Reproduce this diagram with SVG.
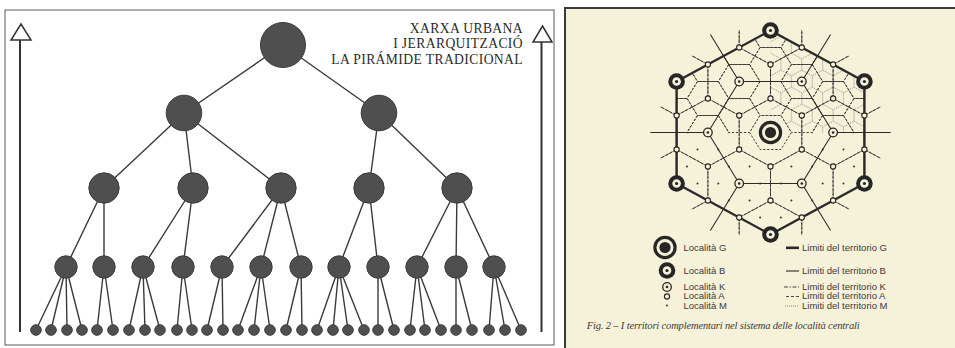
<svg xmlns="http://www.w3.org/2000/svg" width="955" height="348" viewBox="0 0 955 348">
<style>
.edge{stroke:#3a3a3a;stroke-width:1.4;fill:none}
.node{fill:#4f4f4f;stroke:#3c3c3c;stroke-width:1}
.title{font-family:"Liberation Serif","Times New Roman",serif;font-size:13.6px;fill:#2a2a2a;letter-spacing:0.4px;text-anchor:end}
.arrow{fill:#fff;stroke:#333;stroke-width:1.5;stroke-linejoin:miter}
.shaft{stroke:#333;stroke-width:2}
.gb{fill:none;stroke:#2a2a2a;stroke-width:2.3;stroke-linejoin:round}
.bb{fill:none;stroke:#2a2a2a;stroke-width:1}
.kb{fill:none;stroke:#333;stroke-width:0.9;stroke-dasharray:4 1.5 1.5 1.5}
.ab{fill:none;stroke:#333;stroke-width:0.9;stroke-dasharray:2.2 1.6}
.mb{fill:none;stroke:#9a9a9a;stroke-width:0.7;stroke-dasharray:0.9 1.1}
.ink{fill:#262626}
.paper{fill:#f6f1d9}
.kc{fill:#f6f1d9;stroke:#262626;stroke-width:1.3}
.ac{fill:#f6f1d9;stroke:#262626;stroke-width:1.1}
.md{fill:#333}
.leg{font-family:"Liberation Sans",Arial,sans-serif;font-size:9.5px;fill:#3a3a3a}
.cap{font-family:"Liberation Serif","Times New Roman",serif;font-style:italic;font-size:10.5px;fill:#3a3a3a}
</style>
<defs>
<path id="hk" d="M0-34L29.445-17V17L0 34L-29.445 17V-17Z"/>
<path id="ha" d="M19.63 0L9.815 17H-9.815L-19.63 0L-9.815-17H9.815Z"/>
<path id="hm" d="M0-11.33L9.815-5.667V5.667L0 11.33L-9.815 5.667V-5.667Z"/>
<clipPath id="clipK"><polygon points="0,-119.3 103.3,-59.65 103.3,59.65 0,119.3 -103.3,59.65 -103.3,-59.65"/></clipPath>
<clipPath id="clipA"><polygon points="-88.335,1 -88.335,-51 0,-102 88.335,-51 88.335,1"/></clipPath>
<clipPath id="clipM"><polygon points="0,0.5 0,-102 88.335,-51 88.335,0.5"/></clipPath>
<g id="sG"><circle r="11.7" class="ink"/><circle r="8.5" class="paper"/><circle r="5.6" class="ink"/></g>
<g id="sB"><circle r="8.3" class="ink"/><circle r="4.3" class="paper"/><circle r="1.6" class="ink"/></g>
<g id="sK"><circle r="4.3" class="kc"/><circle r="1.3" class="ink"/></g>
<circle id="sA" r="2.6" class="ac"/>
<circle id="sM" r="1" class="md"/>
</defs>

<rect width="955" height="348" fill="#ffffff"/>

<!-- LEFT PANEL -->
<g id="left-panel">
<rect x="5" y="10" width="549" height="335" fill="#ffffff" stroke="#5a5a5a" stroke-width="1"/>
<g id="arrow-left"><line x1="20" y1="40" x2="20" y2="332" class="shaft"/><polygon points="21,24 31,40 11,40" class="arrow"/></g>
<g id="arrow-right"><line x1="541.5" y1="42" x2="541.5" y2="332" class="shaft"/><polygon points="542.5,26 552,42 533,42" class="arrow"/></g>
<g id="title">
<text x="523" y="33" class="title">XARXA URBANA</text>
<text x="523" y="48" class="title">I JERARQUITZACIÓ</text>
<text x="523" y="64" class="title">LA PIRÁMIDE TRADICIONAL</text>
</g>
<g id="tree-edges">
<path class="edge" d="M283 45L184 113M283 45L379 113
M184 113L104 188M184 113L193 188M184 113L281 188M379 113L369 188M379 113L457 188
M104 188L66 267M104 188L104 267M193 188L143 267M193 188L183 267M281 188L222 267M281 188L261 267M281 188L301 267M369 188L339 267M369 188L378 267M457 188L417 267M457 188L456 267M457 188L494 267
M66 267L36 330M66 267L51 330M66 267L67 330M66 267L82 330
M104 267L97 330M104 267L113 330
M143 267L129 330M143 267L145 330M143 267L160 330
M183 267L177 330M183 267L192 330
M222 267L207 330M222 267L223 330
M261 267L238 330M261 267L254 330M261 267L270 330
M301 267L286 330M301 267L302 330
M339 267L317 330M339 267L333 330M339 267L348 330M339 267L364 330
M378 267L378 330M378 267L394 330
M417 267L410 330M417 267L425 330M417 267L441 330
M456 267L456 330M456 267L472 330
M494 267L489 330M494 267L505 330M494 267L521 330"/>
</g>
<g id="n0"><circle cx="283" cy="45" r="22.5" class="node"/></g>
<g id="n1a"><circle cx="184" cy="113" r="17.8" class="node"/></g>
<g id="n1b"><circle cx="379" cy="113" r="17.8" class="node"/></g>
<g id="level2">
<circle cx="104" cy="188" r="15.2" class="node"/><circle cx="193" cy="188" r="15.2" class="node"/><circle cx="281" cy="188" r="15.2" class="node"/><circle cx="369" cy="188" r="15.2" class="node"/><circle cx="457" cy="188" r="15.2" class="node"/>
</g>
<g id="level3">
<circle cx="66" cy="267" r="11.2" class="node"/><circle cx="104" cy="267" r="11.2" class="node"/><circle cx="143" cy="267" r="11.2" class="node"/><circle cx="183" cy="267" r="11.2" class="node"/><circle cx="222" cy="267" r="11.2" class="node"/><circle cx="261" cy="267" r="11.2" class="node"/><circle cx="301" cy="267" r="11.2" class="node"/><circle cx="339" cy="267" r="11.2" class="node"/><circle cx="378" cy="267" r="11.2" class="node"/><circle cx="417" cy="267" r="11.2" class="node"/><circle cx="456" cy="267" r="11.2" class="node"/><circle cx="494" cy="267" r="11.2" class="node"/>
</g>
<g id="leaves">
<circle cx="36" cy="330" r="5.3" class="node"/><circle cx="51" cy="330" r="5.3" class="node"/><circle cx="67" cy="330" r="5.3" class="node"/><circle cx="82" cy="330" r="5.3" class="node"/><circle cx="97" cy="330" r="5.3" class="node"/><circle cx="113" cy="330" r="5.3" class="node"/><circle cx="129" cy="330" r="5.3" class="node"/><circle cx="145" cy="330" r="5.3" class="node"/><circle cx="160" cy="330" r="5.3" class="node"/><circle cx="177" cy="330" r="5.3" class="node"/><circle cx="192" cy="330" r="5.3" class="node"/><circle cx="207" cy="330" r="5.3" class="node"/><circle cx="223" cy="330" r="5.3" class="node"/><circle cx="238" cy="330" r="5.3" class="node"/><circle cx="254" cy="330" r="5.3" class="node"/><circle cx="270" cy="330" r="5.3" class="node"/><circle cx="286" cy="330" r="5.3" class="node"/><circle cx="302" cy="330" r="5.3" class="node"/><circle cx="317" cy="330" r="5.3" class="node"/><circle cx="333" cy="330" r="5.3" class="node"/><circle cx="348" cy="330" r="5.3" class="node"/><circle cx="364" cy="330" r="5.3" class="node"/><circle cx="378" cy="330" r="5.3" class="node"/><circle cx="394" cy="330" r="5.3" class="node"/><circle cx="410" cy="330" r="5.3" class="node"/><circle cx="425" cy="330" r="5.3" class="node"/><circle cx="441" cy="330" r="5.3" class="node"/><circle cx="456" cy="330" r="5.3" class="node"/><circle cx="472" cy="330" r="5.3" class="node"/><circle cx="489" cy="330" r="5.3" class="node"/><circle cx="505" cy="330" r="5.3" class="node"/><circle cx="521" cy="330" r="5.3" class="node"/>
</g>
</g>

<!-- RIGHT PANEL -->
<g id="right-panel">
<rect x="565" y="8" width="400" height="350" fill="#f6f1d9" stroke="#3a3a3a" stroke-width="2"/>
<g id="lattice-lines" transform="translate(770.5 132.5) scale(1.063 1)">
<g id="m-limits" class="mb" clip-path="url(#clipM)">
<use href="#hm" x="0" y="0"/><use href="#hm" x="19.63" y="0"/><use href="#hm" x="39.26" y="0"/><use href="#hm" x="58.89" y="0"/><use href="#hm" x="78.52" y="0"/>
<use href="#hm" x="9.815" y="-17"/><use href="#hm" x="29.445" y="-17"/><use href="#hm" x="49.075" y="-17"/><use href="#hm" x="68.705" y="-17"/><use href="#hm" x="88.335" y="-17"/>
<use href="#hm" x="0" y="-34"/><use href="#hm" x="19.63" y="-34"/><use href="#hm" x="39.26" y="-34"/><use href="#hm" x="58.89" y="-34"/><use href="#hm" x="78.52" y="-34"/>
<use href="#hm" x="9.815" y="-51"/><use href="#hm" x="29.445" y="-51"/><use href="#hm" x="49.075" y="-51"/><use href="#hm" x="68.705" y="-51"/><use href="#hm" x="88.335" y="-51"/>
<use href="#hm" x="0" y="-68"/><use href="#hm" x="19.63" y="-68"/><use href="#hm" x="39.26" y="-68"/><use href="#hm" x="58.89" y="-68"/>
<use href="#hm" x="9.815" y="-85"/><use href="#hm" x="29.445" y="-85"/>
<use href="#hm" x="0" y="-102"/>
</g>
<g id="a-limits" class="ab" clip-path="url(#clipA)">
<use href="#ha" x="-58.89" y="0"/><use href="#ha" x="58.89" y="0"/>
<use href="#ha" x="-88.335" y="-17"/><use href="#ha" x="-29.445" y="-17"/><use href="#ha" x="29.445" y="-17"/><use href="#ha" x="88.335" y="-17"/>
<use href="#ha" x="-58.89" y="-34"/><use href="#ha" x="0" y="-34"/><use href="#ha" x="58.89" y="-34"/>
<use href="#ha" x="-88.335" y="-51"/><use href="#ha" x="-29.445" y="-51"/><use href="#ha" x="29.445" y="-51"/><use href="#ha" x="88.335" y="-51"/>
<use href="#ha" x="-58.89" y="-68"/><use href="#ha" x="0" y="-68"/><use href="#ha" x="58.89" y="-68"/>
<use href="#ha" x="-29.445" y="-85"/><use href="#ha" x="29.445" y="-85"/>
<use href="#ha" x="0" y="-102"/>
</g>
<g id="k-limits" class="kb" clip-path="url(#clipK)">
<use href="#hk" x="0" y="0"/>
<use href="#hk" x="-58.89" y="0"/><use href="#hk" x="58.89" y="0"/><use href="#hk" x="-29.445" y="-51"/><use href="#hk" x="29.445" y="-51"/><use href="#hk" x="-29.445" y="51"/><use href="#hk" x="29.445" y="51"/>
<use href="#hk" x="0" y="-102"/><use href="#hk" x="0" y="102"/><use href="#hk" x="-88.335" y="-51"/><use href="#hk" x="88.335" y="-51"/><use href="#hk" x="-88.335" y="51"/><use href="#hk" x="88.335" y="51"/>
<use href="#hk" x="-117.78" y="0"/><use href="#hk" x="117.78" y="0"/><use href="#hk" x="-58.89" y="-102"/><use href="#hk" x="58.89" y="-102"/><use href="#hk" x="-58.89" y="102"/><use href="#hk" x="58.89" y="102"/>
</g>
<g id="b-limits" class="bb">
<polygon points="-58.89,0 -29.445,-51 29.445,-51 58.89,0 29.445,51 -29.445,51"/>
<path d="M-58.89 0H-113.07M58.89 0H113.07M-29.445-51L-56.53-97.92M29.445-51L56.53-97.92M-29.445 51L-56.53 97.92M29.445 51L56.53 97.92"/>
</g>
<polygon id="g-limit" class="gb" points="0,-102 88.335,-51 88.335,51 0,102 -88.335,51 -88.335,-51"/>
<use href="#ha" class="ab" style="fill:#f6f1d9"/>
</g>
<g id="m-places">
<use href="#sM" x="718.3" y="149.5"/><use href="#sM" x="822.7" y="149.5"/><use href="#sM" x="697.5" y="149.5"/><use href="#sM" x="843.5" y="149.5"/>
<use href="#sM" x="749.6" y="166.5"/><use href="#sM" x="791.4" y="166.5"/><use href="#sM" x="728.8" y="166.5"/><use href="#sM" x="812.2" y="166.5"/><use href="#sM" x="687" y="166.5"/><use href="#sM" x="854" y="166.5"/>
<use href="#sM" x="760.1" y="183.5"/><use href="#sM" x="780.9" y="183.5"/><use href="#sM" x="718.3" y="183.5"/><use href="#sM" x="822.7" y="183.5"/><use href="#sM" x="697.5" y="183.5"/><use href="#sM" x="843.5" y="183.5"/>
<use href="#sM" x="749.6" y="200.5"/><use href="#sM" x="791.4" y="200.5"/><use href="#sM" x="728.8" y="200.5"/><use href="#sM" x="812.2" y="200.5"/>
<use href="#sM" x="760.1" y="217.5"/><use href="#sM" x="780.9" y="217.5"/>
</g>
<g id="a-places">
<use href="#sA" x="770.5" y="98.5"/><use href="#sA" x="801.8" y="115.5"/><use href="#sA" x="801.8" y="149.5"/><use href="#sA" x="770.5" y="166.5"/><use href="#sA" x="739.2" y="149.5"/><use href="#sA" x="739.2" y="115.5"/>
<use href="#sA" x="770.5" y="64.5"/><use href="#sA" x="833.1" y="98.5"/><use href="#sA" x="833.1" y="166.5"/><use href="#sA" x="770.5" y="200.5"/><use href="#sA" x="707.9" y="166.5"/><use href="#sA" x="707.9" y="98.5"/>
<use href="#sA" x="801.8" y="47.5"/><use href="#sA" x="833.1" y="64.5"/><use href="#sA" x="864.4" y="115.5"/><use href="#sA" x="864.4" y="149.5"/><use href="#sA" x="833.1" y="200.5"/><use href="#sA" x="801.8" y="217.5"/><use href="#sA" x="739.2" y="217.5"/><use href="#sA" x="707.9" y="200.5"/><use href="#sA" x="676.6" y="149.5"/><use href="#sA" x="676.6" y="115.5"/><use href="#sA" x="707.9" y="64.5"/><use href="#sA" x="739.2" y="47.5"/>
</g>
<g id="k-places">
<use href="#sK" x="707.9" y="132.5"/><use href="#sK" x="833.1" y="132.5"/><use href="#sK" x="739.2" y="81.5"/><use href="#sK" x="801.8" y="81.5"/><use href="#sK" x="739.2" y="183.5"/><use href="#sK" x="801.8" y="183.5"/>
</g>
<g id="b-places">
<use href="#sB" x="770.5" y="30.5"/><use href="#sB" x="864.4" y="81.5"/><use href="#sB" x="864.4" y="183.5"/><use href="#sB" x="770.5" y="234.5"/><use href="#sB" x="676.6" y="183.5"/><use href="#sB" x="676.6" y="81.5"/>
</g>
<g id="g-place"><use href="#sG" x="770.5" y="132.5"/></g>

<g id="legend">
<use href="#sG" x="665" y="247.5"/>
<use href="#sB" x="667" y="270.5"/>
<use href="#sK" x="667" y="287"/>
<use href="#sA" x="667" y="296.5"/>
<use href="#sM" x="667" y="305.5"/>
<text x="683.5" y="250.5" class="leg">Località G</text>
<text x="683.5" y="273.5" class="leg">Località B</text>
<text x="683.5" y="289.5" class="leg">Località K</text>
<text x="683.5" y="299" class="leg">Località A</text>
<text x="683.5" y="308.5" class="leg">Località M</text>
<line x1="786" y1="247.8" x2="799" y2="247.8" stroke="#2a2a2a" stroke-width="2.6"/>
<line x1="786" y1="271" x2="799" y2="271" stroke="#2a2a2a" stroke-width="1.1"/>
<line x1="784" y1="287" x2="799" y2="287" class="kb"/>
<line x1="786" y1="296.5" x2="799" y2="296.5" stroke="#333" stroke-width="0.9" stroke-dasharray="3 2"/>
<line x1="785" y1="306" x2="799" y2="306" stroke="#555" stroke-width="0.8" stroke-dasharray="0.9 1.1"/>
<text x="802" y="250.5" class="leg">Limiti del territorio G</text>
<text x="802" y="273.5" class="leg">Limiti del territorio B</text>
<text x="802" y="289.5" class="leg">Limiti del territorio K</text>
<text x="802" y="299" class="leg">Limiti del territorio A</text>
<text x="802" y="308.5" class="leg">Limiti del territorio M</text>
</g>
<text x="586.7" y="329" class="cap" textLength="273" lengthAdjust="spacing">Fig. 2 – I territori complementari nel sistema delle località centrali</text>
</g>
</svg>
